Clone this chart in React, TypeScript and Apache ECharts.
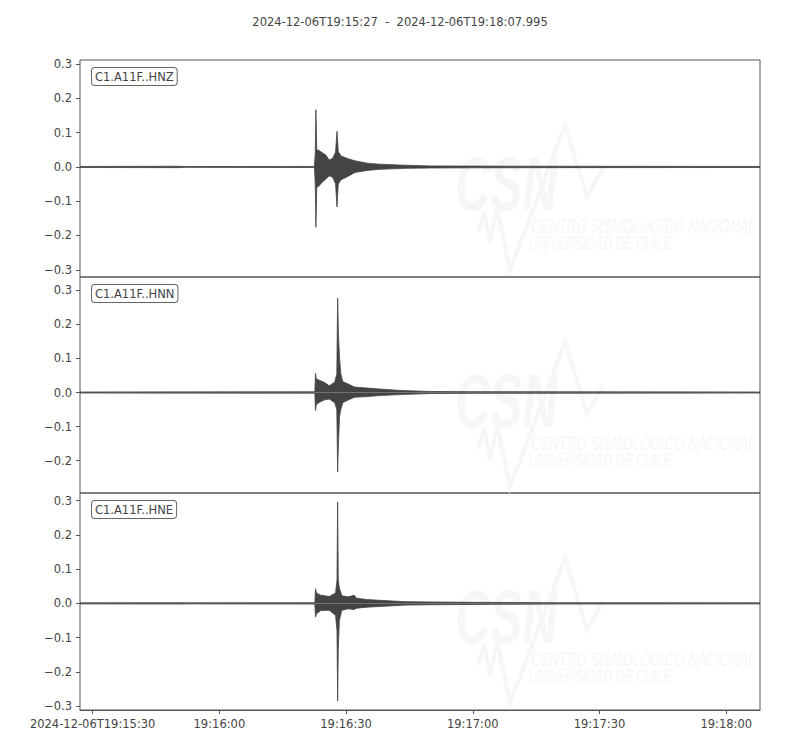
import React, { useEffect, useRef } from "react";
import * as echarts from "echarts";

// ---------- text ----------
const TITLE = "2024-12-06T19:15:27  -  2024-12-06T19:18:07.995";
const DATE = "2024-12-06";
const BASE_HOUR = 19;
const BASE_MIN = 15; // x values are seconds after 19:15:00
const X_MIN = 27;
const X_MAX = 187.995;
const X_TICKS = [30, 60, 90, 120, 150, 180];
const Y_TICKS = [-0.3, -0.2, -0.1, 0, 0.1, 0.2, 0.3];
const CHANNELS = ["C1.A11F..HNZ", "C1.A11F..HNN", "C1.A11F..HNE"];

// ---------- waveform envelopes (seconds after 19:15:00, upper, lower) ----------
const HNZ_T = [27, 50, 52, 82.5, 82.7, 82.85, 83.05, 83.6, 84.3, 85.2, 86.0, 86.8, 87.5, 87.85, 88.15, 88.8, 89.6, 90.5, 92.1, 95, 98, 104, 110, 120, 140, 187.995];
const HNZ_MAX = [0.0015, 0.002, 0.0012, 0.0015, 0.04, 0.167, 0.05, 0.048, 0.042, 0.035, 0.02, 0.025, 0.043, 0.104, 0.045, 0.032, 0.028, 0.024, 0.018, 0.011, 0.008, 0.005, 0.003, 0.0025, 0.002, 0.0015];
const HNZ_MIN = [-0.0015, -0.002, -0.0012, -0.0015, -0.05, -0.176, -0.06, -0.055, -0.045, -0.035, -0.026, -0.03, -0.049, -0.117, -0.05, -0.037, -0.033, -0.027, -0.016, -0.01, -0.007, -0.004, -0.003, -0.0025, -0.002, -0.0015];

const HNN_T = [27, 82.6, 82.75, 82.95, 83.8, 84.8, 86.0, 87.3, 87.8, 88.0, 88.2, 88.45, 88.75, 89.2, 90.5, 92, 95, 98, 103, 110, 120, 187.995];
const HNN_MAX = [0.0015, 0.002, 0.057, 0.04, 0.035, 0.03, 0.02, 0.03, 0.055, 0.277, 0.165, 0.1, 0.055, 0.032, 0.025, 0.016, 0.013, 0.01, 0.006, 0.003, 0.0025, 0.0015];
const HNN_MIN = [-0.0015, -0.002, -0.053, -0.035, -0.028, -0.022, -0.019, -0.03, -0.05, -0.233, -0.145, -0.07, -0.05, -0.03, -0.022, -0.014, -0.012, -0.009, -0.006, -0.003, -0.0025, -0.0015];

const HNE_T = [27, 51.8, 52, 82.6, 82.75, 83.0, 84, 86, 87.5, 87.85, 88.0, 88.15, 88.4, 89, 90.5, 91.9, 92.5, 95, 98, 104, 110, 120, 140, 187.995];
const HNE_MAX = [0.0015, 0.002, 0.0015, 0.002, 0.043, 0.03, 0.024, 0.02, 0.03, 0.068, 0.296, 0.07, 0.045, 0.022, 0.019, 0.024, 0.015, 0.011, 0.009, 0.005, 0.004, 0.003, 0.002, 0.0015];
const HNE_MIN = [-0.0015, -0.002, -0.0015, -0.002, -0.04, -0.03, -0.021, -0.02, -0.035, -0.08, -0.285, -0.133, -0.05, -0.02, -0.016, -0.018, -0.014, -0.011, -0.009, -0.005, -0.004, -0.003, -0.002, -0.0015];

const TRACES = [
  { t: HNZ_T, hi: HNZ_MAX, lo: HNZ_MIN },
  { t: HNN_T, hi: HNN_MAX, lo: HNN_MIN },
  { t: HNE_T, hi: HNE_MAX, lo: HNE_MIN },
];

const INK = "#444444";
const SPINE = "#555555";
const FONT = "DejaVu Sans";
const WM = "#f6f6f6";

const PANEL_TOP = [60, 277, 493];
const PANEL_H = [217, 216, 217];

function pad2(n: number) {
  return n < 10 ? "0" + n : "" + n;
}
function fmtTime(v: number, withDate: boolean) {
  const total = BASE_HOUR * 3600 + BASE_MIN * 60 + Math.round(v);
  const h = Math.floor(total / 3600);
  const m = Math.floor((total % 3600) / 60);
  const s = total % 60;
  const str = `${pad2(h)}:${pad2(m)}:${pad2(s)}`;
  return withDate ? `${DATE}T${str}` : str;
}
function fmtY(v: number) {
  const r = Math.round(v * 10) / 10;
  if (Math.abs(r) < 1e-9) return "0.0";
  return (r < 0 ? "\u2212" : "") + Math.abs(r).toFixed(1);
}

function watermark(top: number) {
  return {
    type: "group",
    silent: true,
    z: -10,
    children: [
      {
        type: "polyline",
        shape: {
          points: [
            [478, top + 172],
            [484, top + 152],
            [490, top + 183],
            [497, top + 148],
            [510, top + 210],
            [565, top + 65],
            [587, top + 137],
            [603, top + 108],
          ],
        },
        style: { stroke: WM, lineWidth: 4, fill: null, lineJoin: "miter" },
      },
      {
        type: "text",
        x: 455,
        y: top + 86,
        scaleX: 0.64,
        style: {
          text: "CSN",
          font: 'italic bold 76px "Liberation Sans"',
          fill: WM,
          textVerticalAlign: "top",
        },
      },
      {
        type: "text",
        x: 531,
        y: top + 156,
        scaleX: 0.66,
        style: {
          text: "CENTRO SISMOLÓGICO NACIONAL",
          font: 'italic 20px "Liberation Sans"',
          fill: WM,
          textVerticalAlign: "top",
        },
      },
      {
        type: "text",
        x: 529,
        y: top + 173,
        scaleX: 0.61,
        style: {
          text: "UNIVERSIDAD DE CHILE",
          font: 'italic 20px "Liberation Sans"',
          fill: WM,
          textVerticalAlign: "top",
        },
      },
    ],
  };
}

export default function App() {
  const ref = useRef<HTMLDivElement>(null);
  useEffect(() => {
    document.body.style.margin = "0";
    if (!ref.current) return;
    const chart = echarts.init(ref.current, undefined, { renderer: "svg" });

    // equal vertical scale for all traces, centred on each trace
    const ranges = TRACES.map((tr) => {
      const hi = Math.max(...tr.hi);
      const lo = Math.min(...tr.lo);
      return { hi, lo, mid: (hi + lo) / 2, span: hi - lo };
    });
    const maxSpan = Math.max(...ranges.map((r) => r.span));
    const half = (maxSpan * 1.09) / 2;

    const grids: any[] = [];
    const xAxes: any[] = [];
    const yAxes: any[] = [];
    const series: any[] = [];
    const graphics: any[] = [];

    TRACES.forEach((tr, i) => {
      const yMin = ranges[i].mid - half;
      const yMax = ranges[i].mid + half;
      const last = i === TRACES.length - 1;
      grids.push({
        left: 80,
        right: 40,
        top: PANEL_TOP[i],
        height: PANEL_H[i],
        show: true,
        borderColor: SPINE,
        borderWidth: 1,
        backgroundColor: "transparent",
      });
      xAxes.push({
        type: "value",
        gridIndex: i,
        min: X_MIN,
        max: X_MAX,
        splitLine: { show: false },
        axisLine: { show: last, onZero: false, lineStyle: { color: SPINE } },
        axisTick: {
          show: last,
          length: 4,
          customValues: X_TICKS,
          lineStyle: { color: SPINE },
        },
        axisLabel: {
          show: last,
          customValues: X_TICKS,
          margin: 8,
          color: INK,
          fontFamily: FONT,
          fontSize: 11.5,
          formatter: (v: number) => fmtTime(v, v === X_TICKS[0]),
        },
      });
      const yt = Y_TICKS.filter((v) => v >= yMin && v <= yMax);
      yAxes.push({
        type: "value",
        gridIndex: i,
        min: yMin,
        max: yMax,
        splitLine: { show: false },
        axisLine: { show: false },
        axisTick: {
          show: true,
          length: 4,
          customValues: yt,
          lineStyle: { color: SPINE },
        },
        axisLabel: {
          customValues: yt,
          margin: 8,
          color: INK,
          fontFamily: FONT,
          fontSize: 11.5,
          formatter: (v: number) => fmtY(v),
        },
      });
      const upper = tr.t.map((t, k) => [t, tr.hi[k]]);
      const lower = tr.t.map((t, k) => [t, tr.lo[k]]);
      [upper, lower].forEach((d) => {
        series.push({
          type: "line",
          xAxisIndex: i,
          yAxisIndex: i,
          data: d,
          showSymbol: false,
          symbol: "none",
          silent: true,
          lineStyle: { color: INK, width: 0.8 },
          areaStyle: { color: INK, opacity: 1, origin: "auto" },
          z: 3,
        });
      });
      graphics.push(watermark(PANEL_TOP[i]));
      graphics.push({
        type: "text",
        x: 92,
        y: PANEL_TOP[i] + 8,
        z: 20,
        style: {
          text: CHANNELS[i],
          font: `11.5px "${FONT}"`,
          fill: INK,
          backgroundColor: "#ffffff",
          borderColor: "#666666",
          borderWidth: 1,
          borderRadius: 3,
          padding: [3, 3, 2, 3],
          textVerticalAlign: "top",
        },
      });
    });

    chart.setOption({
      animation: false,
      backgroundColor: "#ffffff",
      title: {
        text: TITLE,
        left: "center",
        top: 11,
        textStyle: {
          fontFamily: FONT,
          fontSize: 11.5,
          fontWeight: "normal",
          color: INK,
        },
      },
      grid: grids,
      xAxis: xAxes,
      yAxis: yAxes,
      series,
      graphic: graphics,
    });
    return () => chart.dispose();
  }, []);
  return <div ref={ref} style={{ width: 800, height: 750 }} />;
}
